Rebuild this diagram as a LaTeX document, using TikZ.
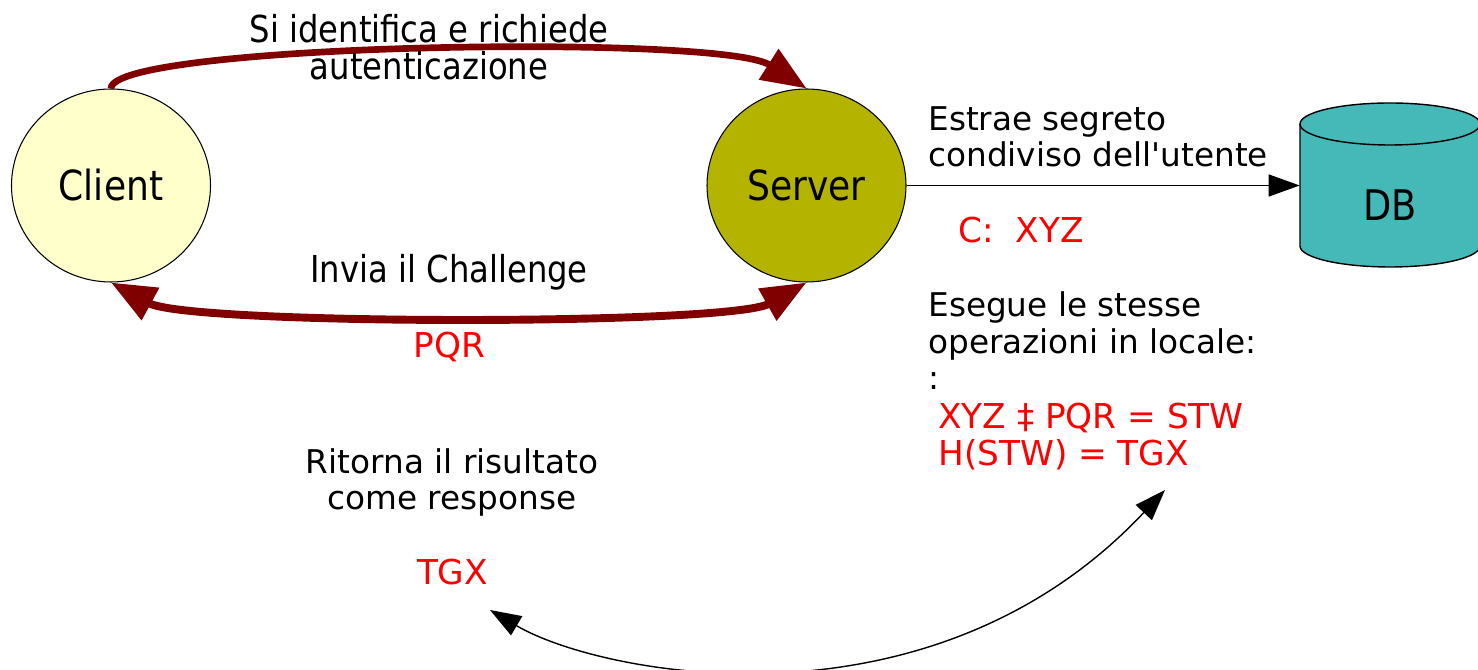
\documentclass[tikz,border=0pt]{standalone}
\usepackage{fontspec}
\setmainfont{DejaVu Sans}
\newfontfamily\tallfont[FakeStretch=0.87]{DejaVu Sans}
\usetikzlibrary{arrows.meta,shapes.geometric}
\definecolor{clientyellow}{RGB}{255,255,204}
\definecolor{serverolive}{RGB}{180,180,0}
\definecolor{dbteal}{RGB}{69,184,184}
\definecolor{flowred}{RGB}{128,0,0}

\begin{document}
\begin{tikzpicture}[
  host/.style={ellipse, draw, line width=0.6pt, minimum width=3.98cm, minimum height=3.86cm,
    inner sep=0pt, font=\tallfont\fontsize{23.6}{28}\selectfont},
  bigtip/.tip={Triangle[length=0.9cm,width=0.7cm]},
  smalltip/.tip={Triangle[length=0.62cm,width=0.44cm]},
  flow/.style={flowred, line width=4.5pt},
  lbl/.style={inner sep=0pt, align=left, font=\fontsize{18.6}{21}\selectfont},
  flowlbl/.style={inner sep=0pt, align=center, font=\tallfont\fontsize{21.1}{21.6}\selectfont},
  redlbl/.style={inner sep=0pt, align=left, text=red, font=\fontsize{19.5}{21.6}\selectfont}
]
\useasboundingbox (0,0) rectangle (29.56,13.4);

% Hosts
\node[host, fill=clientyellow] (client) at (2.22,9.69) {Client};
\node[host, fill=serverolive] (server) at (16.13,9.69) {Server};

% Database cylinder
\draw[fill=dbteal, line width=0.8pt] (26,10.92) -- (26,8.48)
  arc[start angle=180, end angle=360, x radius=1.8cm, y radius=0.42cm] -- (29.6,10.92);
\draw[fill=dbteal, line width=0.8pt] (27.8,10.92) ellipse[x radius=1.8cm, y radius=0.42cm];
\node[minimum width=3.6cm, inner sep=0pt, font=\tallfont\fontsize{24}{26}\selectfont] (db) at (27.8,9.3) {DB};

% Exchanges
\draw[flow, line width=3.8pt, -bigtip] (client.north) .. controls +(0,0.9) and +(-1.72,1.1) .. (server.north);
\draw[flow, bigtip-bigtip] (client.south) .. controls +(1.58,-0.86) and +(-1.52,-0.86) .. (server.south);
\draw[line width=0.8pt, -smalltip] (server.east) -- (server.east -| db.west);

% Response check
\coordinate (resptip) at (9.8,1.2);
\coordinate (calctip) at (23.3,3.6);
\draw[line width=0.8pt, smalltip-smalltip] (resptip) .. controls +(2.2,-1.3) and +(-4.7,-5.0) .. (calctip);

% Labels
\node[flowlbl, anchor=base] (asklbl) at (8.58,11.8) {Si identifica e richiede\\autenticazione};
\node[flowlbl, anchor=base] (challbl) at (8.98,7.74) {Invia il Challenge};
\node[redlbl, anchor=base] (pqr) at (8.99,6.24) {PQR};
\node[lbl, anchor=base, align=center] (resplbl) at (9.04,3.2) {Ritorna il risultato\\come response};
\node[redlbl, anchor=base] (tgx) at (9.05,1.70) {TGX};
\node[lbl, anchor=base west] (fetchlbl) at (18.56,10.06) {Estrae segreto\\condiviso dell\textquotesingle utente};
\node[redlbl, anchor=base west] (secret) at (19.16,8.54) {C:~ XYZ};
\node[lbl, anchor=base west] (locallbl) at (18.56,5.6) {Esegue le stesse\\operazioni in locale:\\:};
\node[redlbl, anchor=base west] (calc) at (18.76,4.08) {XYZ ‡ PQR = STW\\H(STW) = TGX};
\end{tikzpicture}
\end{document}
